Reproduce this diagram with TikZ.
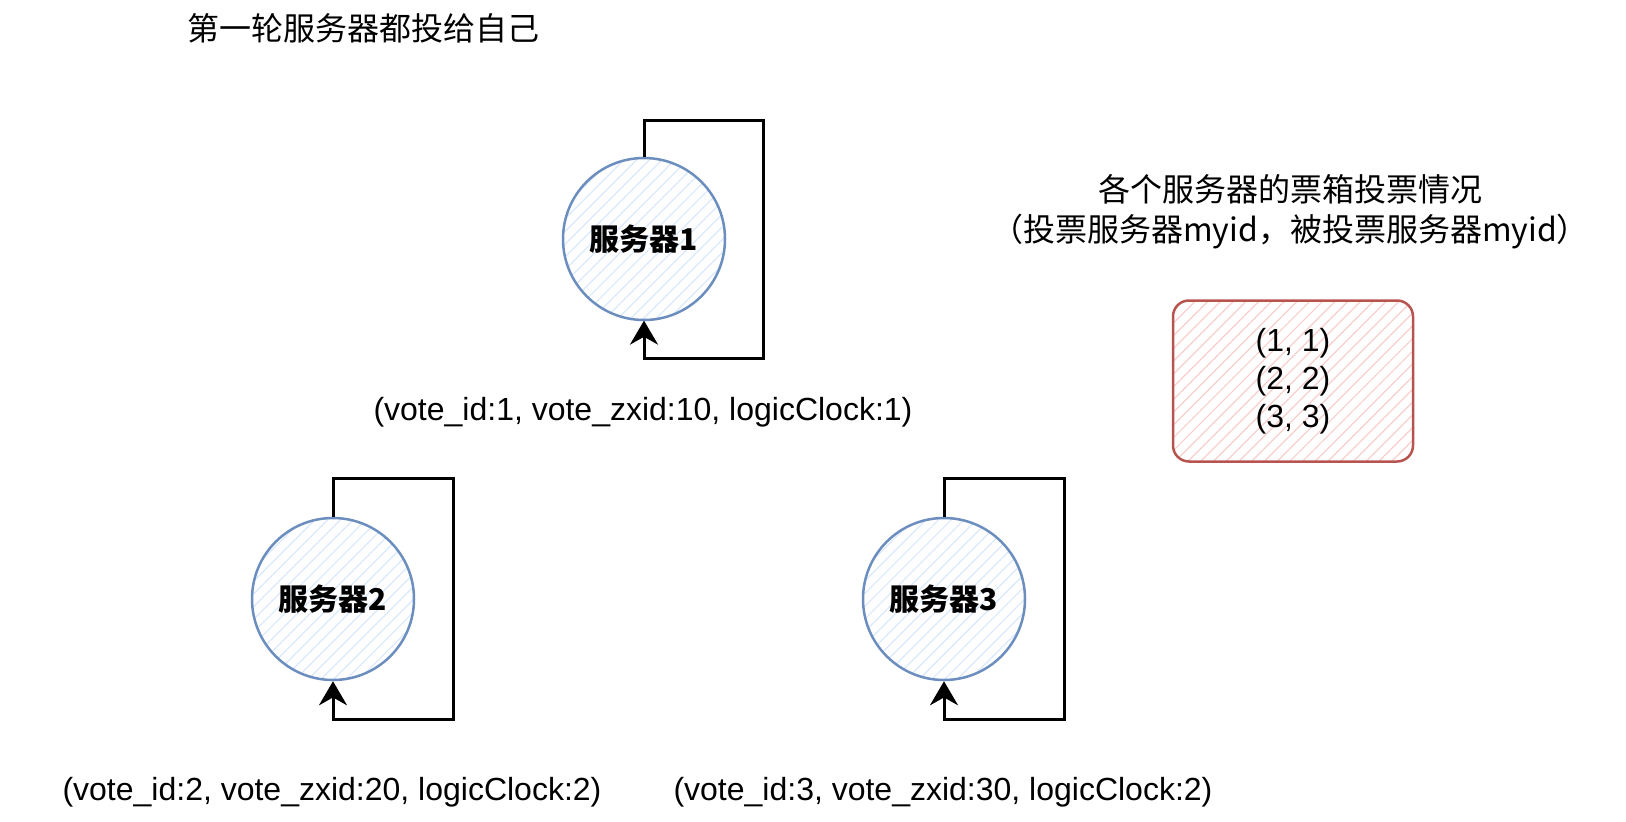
\documentclass[tikz,border=0pt]{standalone}
\usepackage{fontspec}
\setmainfont{Liberation Sans}
\newfontfamily\cjk{Noto Sans CJK SC}
\usepackage{tikz}
\usetikzlibrary{arrows.meta,patterns.meta,calc}

\definecolor{srvline}{HTML}{6C8EBF}
\definecolor{srvfill}{HTML}{DAE8FC}
\definecolor{boxline}{HTML}{B85450}
\definecolor{boxfill}{HTML}{F8CECC}

\tikzset{
  server/.style={circle, minimum size=162pt, inner sep=0pt, draw=srvline, line width=2.5pt,
    pattern={Lines[angle=45,distance=9pt,line width=1.2pt]}, pattern color=srvfill,
    font=\cjk\bfseries\fontsize{30}{36}\selectfont},
  selfloop/.style={line width=3pt, -{Stealth[length=24pt,width=28pt]}},
  votelabel/.style={font=\fontsize{32}{38}\selectfont},
  ballot/.style={draw=boxline, line width=2.5pt, rounded corners=16pt, minimum width=240pt,
    minimum height=161pt, align=center, pattern={Lines[angle=45,distance=9pt,line width=1.2pt]},
    pattern color=boxfill, font=\fontsize{32}{38}\selectfont}
}

\begin{document}
\begin{tikzpicture}[x=1pt,y=-1pt]
  \useasboundingbox (0,0) rectangle (1626,822);
  \node[font=\cjk\fontsize{32}{40}\selectfont] (title) at (363,28) {第一轮服务器都投给自己};

  \node[server] (s1) at (644,239) {服务器1};
  \node[server] (s2) at (333,599) {服务器2};
  \node[server] (s3) at (944,599) {服务器3};

  % chaque serveur vote pour lui-meme
  \draw[selfloop] (s1.north) -- ++(0,-37) -| ++(119,238) -| (s1.south);
  \draw[selfloop] (s2.north) -- ++(0,-38) -| ++(120,241) -| (s2.south);
  \draw[selfloop] (s3.north) -- ++(0,-38) -| ++(120,241) -| (s3.south);

  \node[votelabel] (v1) at (643,412) {(vote\_id:1, vote\_zxid:10, logicClock:1)};
  \node[votelabel] (v2) at (332,792) {(vote\_id:2, vote\_zxid:20, logicClock:2)};
  \node[votelabel] (v3) at (943,792) {(vote\_id:3, vote\_zxid:30, logicClock:2)};

  \node[font=\cjk\fontsize{32}{40}\selectfont, align=center] (boxtitle) at (1290,212)
    {各个服务器的票箱投票情况\\（投票服务器myid，被投票服务器myid）};
  \node[ballot] (box) at (1293,381) {(1, 1)\\(2, 2)\\(3, 3)};
\end{tikzpicture}
\end{document}
